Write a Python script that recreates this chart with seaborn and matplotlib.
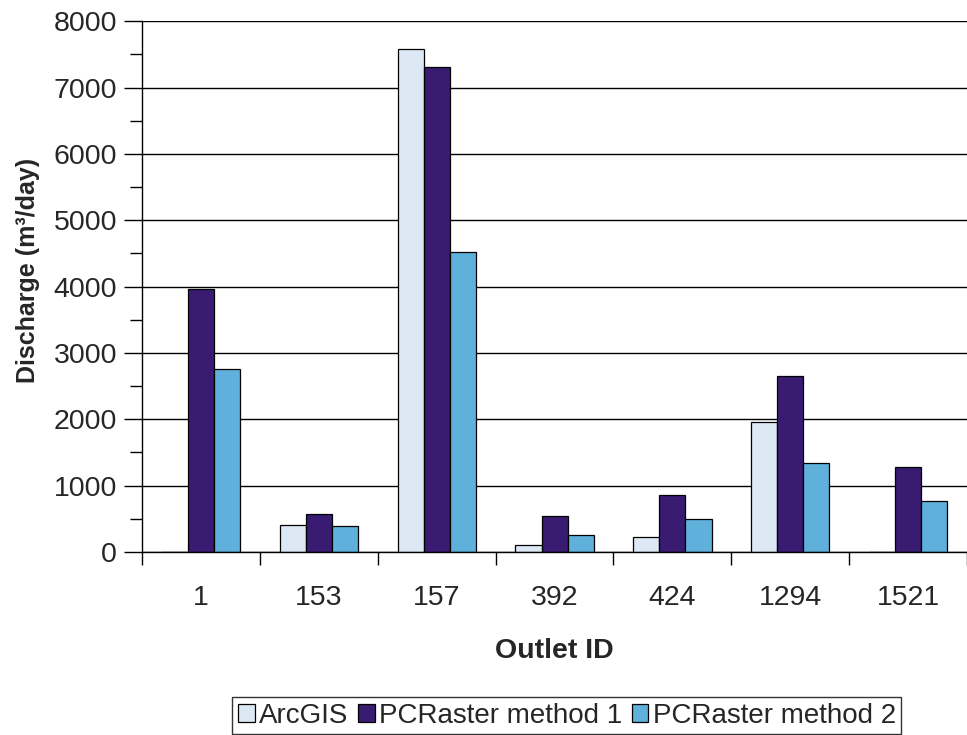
import matplotlib
matplotlib.use("Agg")
import matplotlib.pyplot as plt
from matplotlib.patches import Patch
from matplotlib.ticker import MultipleLocator, FixedLocator
import seaborn as sns
import pandas as pd

outlets = ["1", "153", "157", "392", "424", "1294", "1521"]
arcgis = [0, 400, 7580, 100, 225, 1960, 0]
pcr_method1 = [3970, 570, 7305, 550, 855, 2655, 1275]
pcr_method2 = [2760, 385, 4525, 250, 490, 1345, 770]

series_names = ["ArcGIS", "PCRaster method 1", "PCRaster method 2"]
colors = ["#DCE9F5", "#391B72", "#5FB0DB"]

df = pd.DataFrame({
    "Outlet ID": outlets * 3,
    "Discharge": arcgis + pcr_method1 + pcr_method2,
    "Method": [s for s in series_names for _ in outlets],
})

sns.set_theme(style="white")
plt.rcParams["font.family"] = ["Liberation Sans", "DejaVu Sans"]

FS = 20.5

fig = plt.figure(figsize=(9.67, 7.35), dpi=100)
ax = fig.add_axes([0.147, 0.249, 0.853, 0.722])

sns.barplot(data=df, x="Outlet ID", y="Discharge", hue="Method",
            order=outlets, hue_order=series_names, palette=colors,
            width=0.665, edgecolor="black", linewidth=0.9,
            saturation=1, legend=False, ax=ax)

ax.set_ylim(0, 8000)
ax.set_xlim(-0.5, 6.5)

# gridlines at the major y ticks
ax.yaxis.set_major_locator(MultipleLocator(1000))
ax.yaxis.set_minor_locator(MultipleLocator(500))
ax.grid(axis="y", which="major", color="black", linewidth=1.0)
ax.set_axisbelow(True)

# category separators as minor ticks on x
ax.xaxis.set_minor_locator(FixedLocator([i + 0.5 for i in range(-1, len(outlets))]))
ax.tick_params(axis="x", which="major", length=0, pad=24, labelsize=FS)
ax.tick_params(axis="x", which="minor", length=9, width=1, color="black", direction="out", bottom=True)
ax.tick_params(axis="y", which="major", length=13, width=1, color="black", direction="out", left=True, labelsize=FS, pad=5)
ax.tick_params(axis="y", which="minor", length=9, width=1, color="black", direction="out", left=True)

for side in ["top", "right"]:
    ax.spines[side].set_visible(False)
for side in ["left", "bottom"]:
    ax.spines[side].set_color("black")
    ax.spines[side].set_linewidth(1.0)

ax.set_xlabel("Outlet ID", fontsize=FS, fontweight="bold", labelpad=19)
ax.set_ylabel("Discharge (m³/day)", fontsize=18, fontweight="bold")
ax.yaxis.set_label_coords(-0.124, 0.53)

handles = [Patch(facecolor=c, edgecolor="black", linewidth=0.9) for c in colors]
leg = fig.legend(handles, series_names, loc="center right", bbox_to_anchor=(0.932, 0.026),
                 ncol=3, frameon=True, fancybox=False, fontsize=FS - 0.5,
                 handlelength=0.6, handleheight=0.6, handletextpad=0.15,
                 columnspacing=0.35, borderpad=0.2, borderaxespad=0)
leg.get_frame().set_edgecolor("black")
leg.get_frame().set_linewidth(1.0)

fig.savefig("out.png", dpi=100)
